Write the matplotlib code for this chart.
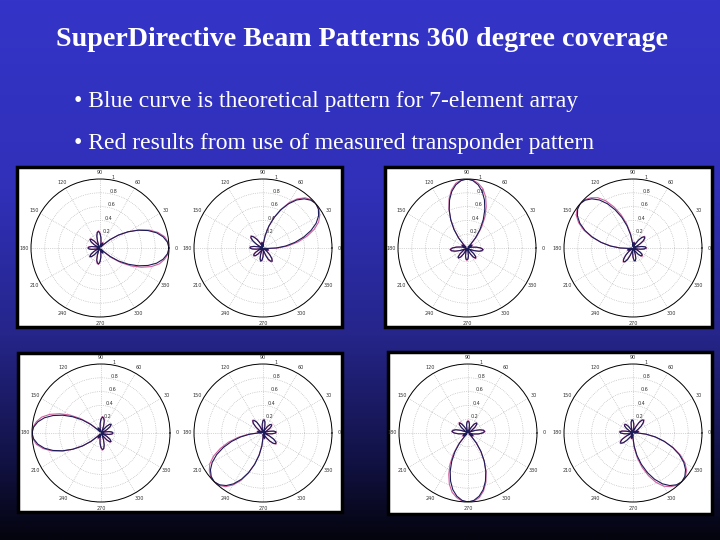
import numpy as np
import matplotlib
matplotlib.use("Agg")
import matplotlib.pyplot as plt
from matplotlib.patches import Rectangle

# slide text
title = "SuperDirective Beam Patterns 360 degree coverage"
bullets = ["• Blue curve is theoretical pattern for 7-element array",
           "• Red results from use of measured transponder pattern"]

# beam steering direction of each polar plot (deg)
steer_deg = [0, 40, 90, 140, 180, 225, 270, 315]

# pattern magnitude relative to steer direction, sampled every 5 deg (0..355)
blue_pattern = [1.00, 0.98, 0.93, 0.85, 0.74, 0.61, 0.47, 0.33, 0.19, 0.07,
                0.02, 0.06, 0.08, 0.07, 0.04, 0.02, 0.08, 0.15, 0.21, 0.24,
                0.23, 0.18, 0.11, 0.05, 0.01, 0.06, 0.13, 0.18, 0.19, 0.16,
                0.10, 0.04, 0.01, 0.06, 0.12, 0.16, 0.17, 0.16, 0.12, 0.06,
                0.01, 0.04, 0.10, 0.16, 0.19, 0.18, 0.13, 0.06, 0.01, 0.05,
                0.11, 0.18, 0.22, 0.23, 0.20, 0.14, 0.07, 0.02, 0.04, 0.07,
                0.08, 0.06, 0.02, 0.07, 0.19, 0.33, 0.47, 0.61, 0.74, 0.85,
                0.93, 0.98]
red_pattern = [1.00, 0.99, 0.95, 0.87, 0.76, 0.62, 0.47, 0.32, 0.18, 0.06,
               0.02, 0.07, 0.09, 0.08, 0.04, 0.03, 0.09, 0.16, 0.22, 0.25,
               0.23, 0.17, 0.10, 0.04, 0.02, 0.07, 0.14, 0.19, 0.19, 0.15,
               0.09, 0.03, 0.02, 0.07, 0.13, 0.17, 0.18, 0.16, 0.11, 0.05,
               0.02, 0.05, 0.11, 0.17, 0.20, 0.18, 0.12, 0.05, 0.02, 0.06,
               0.12, 0.19, 0.23, 0.24, 0.20, 0.13, 0.06, 0.03, 0.05, 0.08,
               0.09, 0.07, 0.03, 0.08, 0.22, 0.37, 0.52, 0.66, 0.79, 0.89,
               0.95, 0.99]
step_deg = 5

theta_ticks = list(range(0, 360, 30))
theta_labels = [str(a) for a in theta_ticks]
r_ticks = [0.2, 0.4, 0.6, 0.8, 1.0]
r_labels = ["0.2", "0.4", "0.6", "0.8", "1"]

W, H = 720, 540
fig = plt.figure(figsize=(7.2, 5.4), dpi=100)

# background gradient: blue at top fading to near black
bg = fig.add_axes([0, 0, 1, 1])
yy = np.linspace(0, 1, 256)
stops = [0.0, 0.35, 0.62, 0.85, 1.0]
cols = np.array([[52, 52, 200], [48, 48, 185], [37, 37, 138],
                 [18, 18, 70], [4, 4, 14]]) / 255
grad = np.stack([np.interp(yy, stops, cols[:, i]) for i in range(3)], axis=1)
bg.imshow(grad[:, None, :], aspect="auto", extent=[0, 1, 1, 0])
bg.set_xlim(0, 1)
bg.set_ylim(1, 0)
bg.axis("off")

fig.text(362 / W, 1 - 40 / H, title, color="white", fontsize=20.2,
         fontweight="bold", family="Liberation Serif", ha="center", va="center")
for i, txt in enumerate(bullets):
    fig.text(74 / W, 1 - (101 + 42 * i) / H, txt, color="white", fontsize=17,
             family="Liberation Serif", ha="left", va="center")

# white panels (pixel boxes: x0, y0, x1, y1), drawn on the background axes
panels = [(17, 167, 342, 327), (385, 167, 712, 327),
          (18, 353, 342, 512), (388, 352, 712, 514)]
for x0, y0, x1, y1 in panels:
    bg.add_patch(Rectangle((x0 / W, y0 / H), (x1 - x0) / W, (y1 - y0) / H,
                           facecolor="white", edgecolor="black", lw=2.5,
                           zorder=3))

centers = [(100, 248), (263, 248), (467, 248), (633, 248),
           (101, 433), (263, 433), (468, 433), (633, 433)]
R = 69

rel = np.deg2rad(np.arange(0, 360 + step_deg, step_deg))
blue_r = np.array(blue_pattern + blue_pattern[:1])
red_r = np.array(red_pattern + red_pattern[:1])

for (cx, cy), s in zip(centers, steer_deg):
    ax = fig.add_axes([(cx - R) / W, 1 - (cy + R) / H, 2 * R / W, 2 * R / H],
                      projection="polar")
    ax.set_facecolor("white")
    th = rel + np.deg2rad(s)
    ax.plot(th, red_r, color="#d0609e", lw=0.8)
    ax.plot(th, blue_r, color="#1c1c58", lw=0.8)
    ax.set_ylim(0, 1)
    ax.set_thetagrids(theta_ticks, [""] * len(theta_ticks))
    for a, lab in zip(theta_ticks, theta_labels):
        ax.text(np.deg2rad(a), 1.1, lab, fontsize=3.5, color="#333333",
                ha="center", va="center", clip_on=False)
    ax.set_rgrids(r_ticks, r_labels, angle=80, fontsize=3.5)
    ax.tick_params(axis="x", length=0)
    ax.tick_params(axis="y", colors="#333333")
    ax.grid(True, color="#b0b0b0", ls=":", lw=0.5)
    ax.spines["polar"].set_color("black")
    ax.spines["polar"].set_linewidth(0.7)

fig.savefig("out.png", dpi=100)
